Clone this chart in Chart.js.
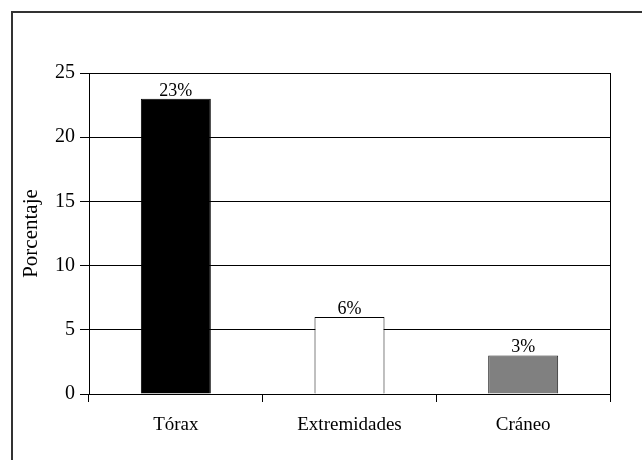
<!DOCTYPE html>
<html>
<head>
<meta charset="utf-8">
<script src="https://cdn.jsdelivr.net/npm/chart.js@4/dist/chart.umd.min.js"></script>
<style>
  html, body { margin: 0; padding: 0; background: #fff; overflow: hidden; }
  #wrap { position: relative; width: 642px; height: 460px; }
  #frame {
    position: absolute; left: 11px; top: 11px; width: 700px; height: 500px;
    border-left: 2px solid #333; border-top: 2px solid #333;
  }
  canvas { position: absolute; left: 0; top: 0; }
</style>
</head>
<body>
<div id="wrap">
  <div id="frame"></div>
  <canvas id="chart" width="642" height="460"></canvas>
</div>
<script>
// Data
const categories = ['Tórax', 'Extremidades', 'Cráneo'];
const values = [23, 6, 3];
const percentLabels = ['23%', '6%', '3%'];
const yTicks = [0, 5, 10, 15, 20, 25];

const SERIF = "'Liberation Serif', 'Times New Roman', serif";

// Draw the percent text above each bar
const barLabels = {
  id: 'barLabels',
  afterDatasetsDraw(chart) {
    const ctx = chart.ctx;
    const meta = chart.getDatasetMeta(0);
    ctx.save();
    ctx.font = `18px ${SERIF}`;
    ctx.fillStyle = '#000';
    ctx.textAlign = 'center';
    ctx.textBaseline = 'alphabetic';
    meta.data.forEach((bar, i) => {
      ctx.fillText(percentLabels[i], bar.x, bar.y - 3);
    });
    ctx.restore();
  }
};

new Chart(document.getElementById('chart').getContext('2d'), {
  type: 'bar',
  data: {
    labels: categories,
    datasets: [{
      data: values,
      backgroundColor: ['#000000', '#ffffff', '#808080'],
      borderColor: ['#000000', '#000000', '#222222'],
      borderWidth: 1,
      barPercentage: 0.403,
      categoryPercentage: 1
    }]
  },
  options: {
    responsive: false,
    animation: false,
    layout: { padding: { left: 0, right: 32, top: 73, bottom: 0 } },
    plugins: {
      legend: { display: false },
      tooltip: { enabled: false }
    },
    scales: {
      x: {
        offset: true,
        grid: {
          offset: true,
          drawOnChartArea: false,
          drawTicks: true,
          tickLength: 8,
          color: '#000',
          lineWidth: 1
        },
        border: { display: true, color: '#000', width: 1 },
        ticks: {
          color: '#000',
          padding: 12,
          font: { family: SERIF, size: 19 }
        },
        afterFit(scale) { scale.height = 66; }
      },
      y: {
        min: 0,
        max: 25,
        afterBuildTicks(scale) { scale.ticks = yTicks.map(v => ({ value: v })); },
        grid: {
          color: '#000',
          lineWidth: 1,
          tickLength: 9
        },
        border: { display: true, color: '#000', width: 1 },
        ticks: {
          color: '#000',
          padding: 5,
          font: { family: SERIF, size: 20 }
        },
        title: {
          display: true,
          text: 'Porcentaje',
          color: '#000',
          padding: { top: 19, bottom: 0 },
          font: { family: SERIF, size: 21 }
        },
        afterFit(scale) { scale.width = 89; }
      },
      y2: {
        position: 'right',
        min: 0,
        max: 25,
        grid: { drawOnChartArea: false, drawTicks: false, tickLength: 0 },
        border: { display: true, color: '#000', width: 1 },
        ticks: { display: false },
        afterFit(scale) { scale.width = 0; }
      }
    }
  },
  plugins: [barLabels]
});
</script>
</body>
</html>
